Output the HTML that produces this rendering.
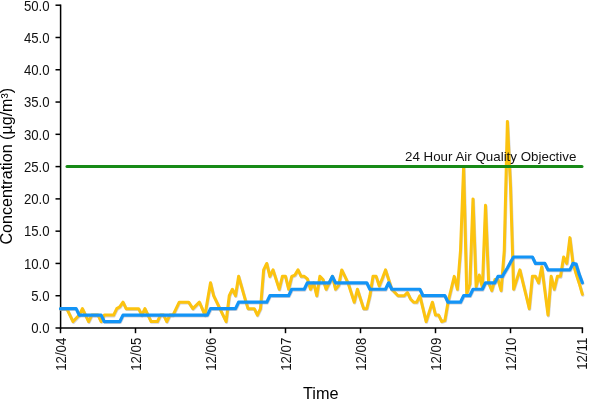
<!DOCTYPE html>
<html><head><meta charset="utf-8"><title>Concentration chart</title>
<style>
html,body{margin:0;padding:0;background:#fff;}
svg{display:block;font-family:"Liberation Sans",sans-serif;}
.ax{stroke:#000;stroke-width:1.5;fill:none}
.yl{font-size:13.2px;text-anchor:end;fill:#111}
.xl{font-size:13.3px;text-anchor:end;fill:#111}
</style></head><body>
<svg width="600" height="400" viewBox="0 0 600 400">
<rect width="600" height="400" fill="#fff"/>
<line x1="60.6" x2="60.6" y1="4.4" y2="328.7" class="ax"/>
<line x1="59.9" x2="583.1" y1="328" y2="328" class="ax"/>
<polyline points="60.50,308.63 63.62,308.63 66.75,308.63 69.88,315.09 73.00,321.54 76.12,318.32 79.25,315.09 82.38,308.63 85.50,315.09 88.62,321.54 91.75,315.09 94.88,315.09 98.00,315.09 101.12,321.54 104.25,315.09 107.38,315.09 110.50,315.09 113.62,315.09 116.75,308.63 119.88,306.70 123.00,302.18 126.12,308.63 129.25,308.63 132.38,308.63 135.50,308.63 138.62,308.63 141.75,315.09 144.88,308.63 148.00,315.09 151.12,321.54 154.25,321.54 157.38,321.54 160.50,315.09 163.62,315.09 166.75,321.54 169.88,315.09 173.00,315.09 176.12,308.63 179.25,302.18 182.38,302.18 185.50,302.18 188.62,302.18 192.84,308.63 196.12,305.40 199.38,302.18 202.19,308.63 205.00,315.09 207.69,298.95 210.50,282.81 213.62,295.72 216.75,302.18 219.88,308.63 223.00,315.09 226.12,321.54 229.25,295.72 232.38,289.26 235.50,295.72 238.62,276.35 241.75,287.33 244.88,298.30 248.00,308.63 251.12,308.63 254.25,308.63 257.38,315.09 260.50,308.63 263.62,269.90 266.75,263.44 269.88,276.35 273.00,269.90 276.12,279.58 279.25,289.26 282.38,276.35 285.50,276.35 288.62,289.26 291.75,276.35 294.88,275.06 298.00,269.90 301.12,276.35 304.25,276.35 307.38,278.93 310.50,289.26 313.62,282.81 316.75,295.72 319.88,276.35 323.00,279.58 326.12,289.26 329.25,282.81 332.38,276.35 335.50,289.26 338.62,285.39 341.75,269.90 344.88,276.35 348.00,282.81 351.12,292.49 354.25,302.18 357.38,289.26 360.50,298.95 363.62,308.63 366.75,308.63 369.88,295.72 373.00,276.35 376.12,276.35 379.25,286.04 382.38,278.29 385.50,269.90 388.62,279.58 391.75,289.26 394.88,292.49 398.00,295.72 401.12,295.72 404.25,295.72 407.38,292.49 410.50,298.95 413.62,302.18 416.75,302.18 419.88,295.72 423.00,308.63 426.12,321.54 429.25,311.86 432.38,302.18 435.50,315.09 438.62,315.09 441.75,321.54 444.88,320.58 448.00,302.18 451.12,289.26 454.25,276.35 457.38,289.26 460.50,250.53 463.62,166.60 466.75,293.78 469.88,284.10 473.00,198.88 476.12,286.68 479.25,275.06 482.38,287.33 485.50,205.34 488.62,282.81 491.75,290.56 494.88,279.58 498.00,279.58 501.12,290.56 504.25,250.53 507.38,121.41 510.50,185.97 513.62,289.26 516.75,279.58 519.88,269.90 523.00,282.81 526.12,295.72 529.25,308.63 532.38,276.35 535.50,276.35 538.62,282.81 541.75,266.67 544.88,290.88 548.00,315.09 551.12,276.35 554.25,289.26 557.38,276.35 560.50,276.35 563.62,256.98 566.75,263.44 569.88,237.62 573.00,263.44 576.12,273.77 579.25,283.45 582.38,294.43" fill="none" stroke="#9a9aa8" stroke-opacity="0.45" stroke-width="3.0" stroke-linejoin="round" stroke-linecap="round" transform="translate(0.5,0.8)"/>
<polyline points="60.50,308.63 63.62,308.63 66.75,308.63 69.88,315.09 73.00,321.54 76.12,318.32 79.25,315.09 82.38,308.63 85.50,315.09 88.62,321.54 91.75,315.09 94.88,315.09 98.00,315.09 101.12,321.54 104.25,315.09 107.38,315.09 110.50,315.09 113.62,315.09 116.75,308.63 119.88,306.70 123.00,302.18 126.12,308.63 129.25,308.63 132.38,308.63 135.50,308.63 138.62,308.63 141.75,315.09 144.88,308.63 148.00,315.09 151.12,321.54 154.25,321.54 157.38,321.54 160.50,315.09 163.62,315.09 166.75,321.54 169.88,315.09 173.00,315.09 176.12,308.63 179.25,302.18 182.38,302.18 185.50,302.18 188.62,302.18 192.84,308.63 196.12,305.40 199.38,302.18 202.19,308.63 205.00,315.09 207.69,298.95 210.50,282.81 213.62,295.72 216.75,302.18 219.88,308.63 223.00,315.09 226.12,321.54 229.25,295.72 232.38,289.26 235.50,295.72 238.62,276.35 241.75,287.33 244.88,298.30 248.00,308.63 251.12,308.63 254.25,308.63 257.38,315.09 260.50,308.63 263.62,269.90 266.75,263.44 269.88,276.35 273.00,269.90 276.12,279.58 279.25,289.26 282.38,276.35 285.50,276.35 288.62,289.26 291.75,276.35 294.88,275.06 298.00,269.90 301.12,276.35 304.25,276.35 307.38,278.93 310.50,289.26 313.62,282.81 316.75,295.72 319.88,276.35 323.00,279.58 326.12,289.26 329.25,282.81 332.38,276.35 335.50,289.26 338.62,285.39 341.75,269.90 344.88,276.35 348.00,282.81 351.12,292.49 354.25,302.18 357.38,289.26 360.50,298.95 363.62,308.63 366.75,308.63 369.88,295.72 373.00,276.35 376.12,276.35 379.25,286.04 382.38,278.29 385.50,269.90 388.62,279.58 391.75,289.26 394.88,292.49 398.00,295.72 401.12,295.72 404.25,295.72 407.38,292.49 410.50,298.95 413.62,302.18 416.75,302.18 419.88,295.72 423.00,308.63 426.12,321.54 429.25,311.86 432.38,302.18 435.50,315.09 438.62,315.09 441.75,321.54 444.88,320.58 448.00,302.18 451.12,289.26 454.25,276.35 457.38,289.26 460.50,250.53 463.62,166.60 466.75,293.78 469.88,284.10 473.00,198.88 476.12,286.68 479.25,275.06 482.38,287.33 485.50,205.34 488.62,282.81 491.75,290.56 494.88,279.58 498.00,279.58 501.12,290.56 504.25,250.53 507.38,121.41 510.50,185.97 513.62,289.26 516.75,279.58 519.88,269.90 523.00,282.81 526.12,295.72 529.25,308.63 532.38,276.35 535.50,276.35 538.62,282.81 541.75,266.67 544.88,290.88 548.00,315.09 551.12,276.35 554.25,289.26 557.38,276.35 560.50,276.35 563.62,256.98 566.75,263.44 569.88,237.62 573.00,263.44 576.12,273.77 579.25,283.45 582.38,294.43" fill="none" stroke="#fcc30f" stroke-width="3.0" stroke-linejoin="round" stroke-linecap="round"/>
<polyline points="60.50,308.63 63.62,308.63 66.75,308.63 69.88,308.63 73.00,308.63 76.12,308.63 79.25,315.09 82.38,315.09 85.50,315.09 88.62,315.09 91.75,315.09 94.88,315.09 98.00,315.09 101.12,315.09 104.25,321.54 107.38,321.54 110.50,321.54 113.62,321.54 116.75,321.54 119.88,321.54 123.00,315.09 126.12,315.09 129.25,315.09 132.38,315.09 135.50,315.09 138.62,315.09 141.75,315.09 144.88,315.09 148.00,315.09 151.12,315.09 154.25,315.09 157.38,315.09 160.50,315.09 163.62,315.09 166.75,315.09 169.88,315.09 173.00,315.09 176.12,315.09 179.25,315.09 182.38,315.09 185.50,315.09 188.62,315.09 191.75,315.09 194.88,315.09 198.00,315.09 201.12,315.09 204.25,315.09 207.38,315.09 210.50,308.63 213.62,308.63 216.75,308.63 219.88,308.63 223.00,308.63 226.12,308.63 229.25,308.63 232.38,308.63 235.50,308.63 238.62,302.18 241.75,302.18 244.88,302.18 248.00,302.18 251.12,302.18 254.25,302.18 257.38,302.18 260.50,302.18 263.62,302.18 266.75,302.18 269.88,295.72 273.00,295.72 276.12,295.72 279.25,295.72 282.38,295.72 285.50,295.72 288.62,295.72 291.75,289.26 294.88,289.26 298.00,289.26 301.12,289.26 304.25,289.26 307.38,282.81 310.50,282.81 313.62,282.81 316.75,282.81 319.88,282.81 323.00,282.81 326.12,282.81 329.25,282.81 332.38,276.35 335.50,282.81 338.62,282.81 341.75,282.81 344.88,282.81 348.00,282.81 351.12,282.81 354.25,282.81 357.38,282.81 360.50,282.81 363.62,282.81 366.75,282.81 369.88,289.26 373.00,289.26 376.12,289.26 379.25,289.26 382.38,289.26 385.50,289.26 388.62,282.81 391.75,289.26 394.88,289.26 398.00,289.26 401.12,289.26 404.25,289.26 407.38,289.26 410.50,289.26 413.62,289.26 416.75,289.26 419.88,289.26 423.00,295.72 426.12,295.72 429.25,295.72 432.38,295.72 435.50,295.72 438.62,295.72 441.75,295.72 444.88,295.72 448.00,302.18 451.12,302.18 454.25,302.18 457.38,302.18 460.50,302.18 463.62,295.72 466.75,295.72 469.88,295.72 473.00,289.26 476.12,289.26 479.25,289.26 482.38,289.26 485.50,282.81 488.62,282.81 491.75,282.81 494.88,282.81 498.00,276.35 501.12,276.35 502.53,276.35 504.25,273.12 507.38,267.96 510.50,262.15 513.62,256.98 516.75,256.98 519.88,256.98 523.00,256.98 526.12,256.98 529.25,256.98 532.38,256.98 535.50,263.44 538.62,263.44 541.75,263.44 544.88,263.44 548.00,269.90 551.12,269.90 554.25,269.90 557.38,269.90 560.50,269.90 563.62,269.90 566.75,269.90 569.88,269.90 573.00,263.44 576.12,264.09 579.25,274.42 582.38,282.81" fill="none" stroke="#9a9aa8" stroke-opacity="0.45" stroke-width="3.2" stroke-linejoin="round" stroke-linecap="round" transform="translate(0.5,0.8)"/>
<polyline points="60.50,308.63 63.62,308.63 66.75,308.63 69.88,308.63 73.00,308.63 76.12,308.63 79.25,315.09 82.38,315.09 85.50,315.09 88.62,315.09 91.75,315.09 94.88,315.09 98.00,315.09 101.12,315.09 104.25,321.54 107.38,321.54 110.50,321.54 113.62,321.54 116.75,321.54 119.88,321.54 123.00,315.09 126.12,315.09 129.25,315.09 132.38,315.09 135.50,315.09 138.62,315.09 141.75,315.09 144.88,315.09 148.00,315.09 151.12,315.09 154.25,315.09 157.38,315.09 160.50,315.09 163.62,315.09 166.75,315.09 169.88,315.09 173.00,315.09 176.12,315.09 179.25,315.09 182.38,315.09 185.50,315.09 188.62,315.09 191.75,315.09 194.88,315.09 198.00,315.09 201.12,315.09 204.25,315.09 207.38,315.09 210.50,308.63 213.62,308.63 216.75,308.63 219.88,308.63 223.00,308.63 226.12,308.63 229.25,308.63 232.38,308.63 235.50,308.63 238.62,302.18 241.75,302.18 244.88,302.18 248.00,302.18 251.12,302.18 254.25,302.18 257.38,302.18 260.50,302.18 263.62,302.18 266.75,302.18 269.88,295.72 273.00,295.72 276.12,295.72 279.25,295.72 282.38,295.72 285.50,295.72 288.62,295.72 291.75,289.26 294.88,289.26 298.00,289.26 301.12,289.26 304.25,289.26 307.38,282.81 310.50,282.81 313.62,282.81 316.75,282.81 319.88,282.81 323.00,282.81 326.12,282.81 329.25,282.81 332.38,276.35 335.50,282.81 338.62,282.81 341.75,282.81 344.88,282.81 348.00,282.81 351.12,282.81 354.25,282.81 357.38,282.81 360.50,282.81 363.62,282.81 366.75,282.81 369.88,289.26 373.00,289.26 376.12,289.26 379.25,289.26 382.38,289.26 385.50,289.26 388.62,282.81 391.75,289.26 394.88,289.26 398.00,289.26 401.12,289.26 404.25,289.26 407.38,289.26 410.50,289.26 413.62,289.26 416.75,289.26 419.88,289.26 423.00,295.72 426.12,295.72 429.25,295.72 432.38,295.72 435.50,295.72 438.62,295.72 441.75,295.72 444.88,295.72 448.00,302.18 451.12,302.18 454.25,302.18 457.38,302.18 460.50,302.18 463.62,295.72 466.75,295.72 469.88,295.72 473.00,289.26 476.12,289.26 479.25,289.26 482.38,289.26 485.50,282.81 488.62,282.81 491.75,282.81 494.88,282.81 498.00,276.35 501.12,276.35 502.53,276.35 504.25,273.12 507.38,267.96 510.50,262.15 513.62,256.98 516.75,256.98 519.88,256.98 523.00,256.98 526.12,256.98 529.25,256.98 532.38,256.98 535.50,263.44 538.62,263.44 541.75,263.44 544.88,263.44 548.00,269.90 551.12,269.90 554.25,269.90 557.38,269.90 560.50,269.90 563.62,269.90 566.75,269.90 569.88,269.90 573.00,263.44 576.12,264.09 579.25,274.42 582.38,282.81" fill="none" stroke="#1394f6" stroke-width="3.2" stroke-linejoin="round" stroke-linecap="round"/>
<line x1="67" x2="582" y1="166.5" y2="166.5" stroke="#178a17" stroke-width="3" stroke-linecap="round"/>
<line x1="55.5" x2="60.5" y1="328.00" y2="328.00" class="ax"/>
<text transform="translate(49.6,333.30) scale(1,1.08)" class="yl">0.0</text>
<line x1="55.5" x2="60.5" y1="295.72" y2="295.72" class="ax"/>
<text transform="translate(49.6,301.02) scale(1,1.08)" class="yl">5.0</text>
<line x1="55.5" x2="60.5" y1="263.44" y2="263.44" class="ax"/>
<text transform="translate(49.6,268.74) scale(1,1.08)" class="yl">10.0</text>
<line x1="55.5" x2="60.5" y1="231.16" y2="231.16" class="ax"/>
<text transform="translate(49.6,236.46) scale(1,1.08)" class="yl">15.0</text>
<line x1="55.5" x2="60.5" y1="198.88" y2="198.88" class="ax"/>
<text transform="translate(49.6,204.18) scale(1,1.08)" class="yl">20.0</text>
<line x1="55.5" x2="60.5" y1="166.60" y2="166.60" class="ax"/>
<text transform="translate(49.6,171.90) scale(1,1.08)" class="yl">25.0</text>
<line x1="55.5" x2="60.5" y1="134.32" y2="134.32" class="ax"/>
<text transform="translate(49.6,139.62) scale(1,1.08)" class="yl">30.0</text>
<line x1="55.5" x2="60.5" y1="102.04" y2="102.04" class="ax"/>
<text transform="translate(49.6,107.34) scale(1,1.08)" class="yl">35.0</text>
<line x1="55.5" x2="60.5" y1="69.76" y2="69.76" class="ax"/>
<text transform="translate(49.6,75.06) scale(1,1.08)" class="yl">40.0</text>
<line x1="55.5" x2="60.5" y1="37.48" y2="37.48" class="ax"/>
<text transform="translate(49.6,42.78) scale(1,1.08)" class="yl">45.0</text>
<line x1="55.5" x2="60.5" y1="5.20" y2="5.20" class="ax"/>
<text transform="translate(49.6,10.50) scale(1,1.08)" class="yl">50.0</text>

<line x1="60.50" x2="60.50" y1="328" y2="333.2" class="ax"/>
<text transform="translate(65.60,337.6) rotate(-90) scale(1,1.1)" class="xl">12/04</text>
<line x1="135.50" x2="135.50" y1="328" y2="333.2" class="ax"/>
<text transform="translate(140.60,337.6) rotate(-90) scale(1,1.1)" class="xl">12/05</text>
<line x1="210.50" x2="210.50" y1="328" y2="333.2" class="ax"/>
<text transform="translate(215.60,337.6) rotate(-90) scale(1,1.1)" class="xl">12/06</text>
<line x1="285.50" x2="285.50" y1="328" y2="333.2" class="ax"/>
<text transform="translate(290.60,337.6) rotate(-90) scale(1,1.1)" class="xl">12/07</text>
<line x1="360.50" x2="360.50" y1="328" y2="333.2" class="ax"/>
<text transform="translate(365.60,337.6) rotate(-90) scale(1,1.1)" class="xl">12/08</text>
<line x1="435.50" x2="435.50" y1="328" y2="333.2" class="ax"/>
<text transform="translate(440.60,337.6) rotate(-90) scale(1,1.1)" class="xl">12/09</text>
<line x1="510.50" x2="510.50" y1="328" y2="333.2" class="ax"/>
<text transform="translate(515.60,337.6) rotate(-90) scale(1,1.1)" class="xl">12/10</text>
<line x1="582.38" x2="582.38" y1="328" y2="333.2" class="ax"/>
<text transform="translate(587.48,337.6) rotate(-90) scale(1,1.1)" class="xl">12/11</text>

<text x="405" y="160.7" font-size="13.35px" fill="#111">24 Hour Air Quality Objective</text>
<text transform="translate(12.2,166.2) rotate(-90)" text-anchor="middle" font-size="16.1px" fill="#000">Concentration (µg/m³)</text>
<text x="303.0" y="399" font-size="16.3px" fill="#000">Time</text>
</svg>
</body></html>
